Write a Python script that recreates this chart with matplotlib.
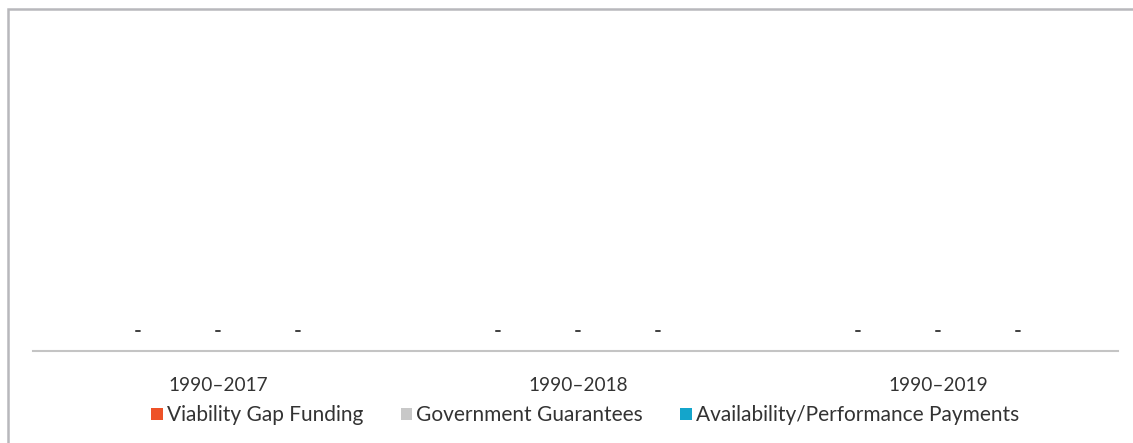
import matplotlib.pyplot as plt
import numpy as np
from matplotlib.patches import Rectangle

plt.rcParams['font.family'] = ['Lato', 'DejaVu Sans']

periods = ['1990–2017', '1990–2018', '1990–2019']
series = ['Viability Gap Funding', 'Government Guarantees', 'Availability/Performance Payments']
colors = ['#EE5228', '#C8C8C8', '#14A5CB']
vgf = [0, 0, 0]
guarantees = [0, 0, 0]
availability = [0, 0, 0]
values = [vgf, guarantees, availability]

fig = plt.figure(figsize=(11.33, 4.43), dpi=100)
ax = fig.add_axes([0.0291, 0.208, 0.9576, 0.74])

x = np.arange(len(periods))
width = 0.222
for i, (name, vals, c) in enumerate(zip(series, values, colors)):
    bars = ax.bar(x + (i - 1) * width, vals, width * 0.9, color=c, label=name)
    # zero values are shown as a dash, accounting style
    ax.bar_label(bars, labels=['-' if v == 0 else f'{v:,}' for v in vals],
                 padding=7, fontsize=15, fontweight='bold', color='#444444')

ax.set_xlim(-0.514, len(periods) - 0.5)
ax.set_ylim(0, 1)
ax.set_xticks(x, periods)
ax.tick_params(axis='x', length=0, pad=19, labelsize=13.7, labelcolor='#333333')
ax.set_yticks([])
for s in ['top', 'right', 'left']:
    ax.spines[s].set_visible(False)
ax.spines['bottom'].set_color('#C4C4C4')
ax.spines['bottom'].set_linewidth(1.5)

leg = ax.legend(loc='center', bbox_to_anchor=(0.509, -0.197), ncol=3, frameon=False,
                fontsize=15, handlelength=0.55, handleheight=0.55, handletextpad=0.2,
                columnspacing=1.8, labelcolor='#333333')

# outer frame around the chart
fig.patches.append(Rectangle((8 / 1133, -1.0), 3.0, 2.0 - 9 / 443, transform=fig.transFigure,
                             fill=False, edgecolor='#B8B8BC', linewidth=1.8, zorder=0))

fig.savefig('out.png', dpi=100)
